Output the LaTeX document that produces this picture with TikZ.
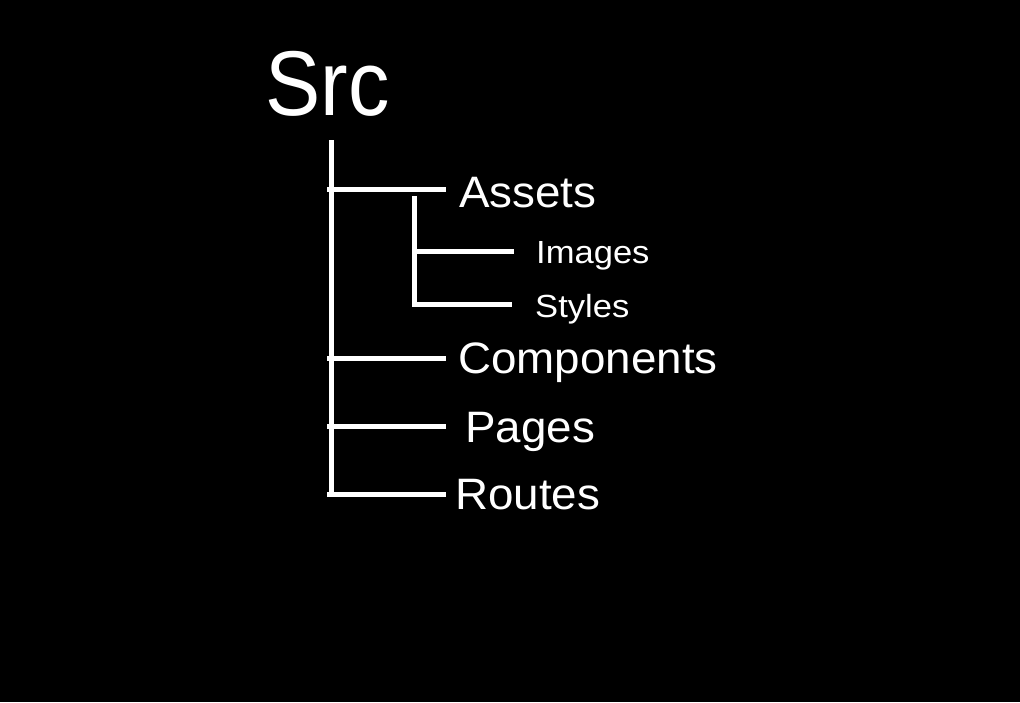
\documentclass[tikz,border=0pt]{standalone}
\usepackage{fontspec}
\setmainfont{Liberation Sans}
\newfontfamily\rootfont[FakeStretch=0.9]{Liberation Sans}
\newfontfamily\lvlonefont[FakeStretch=1.04]{Liberation Sans}
\newfontfamily\lvltwofont[FakeStretch=1.08]{Liberation Sans}
\begin{document}
\begin{tikzpicture}[x=1pt,y=-1pt,
  branch/.style={draw=white,line width=5pt},
  lvlone/.style={text=white,inner sep=0pt,anchor=base west,font=\lvlonefont\fontsize{44}{48}\selectfont},
  lvltwo/.style={text=white,inner sep=0pt,anchor=base west,font=\lvltwofont\fontsize{32}{36}\selectfont},
  rootlbl/.style={text=white,inner sep=0pt,anchor=base west,font=\rootfont\fontsize{92}{96}\selectfont}]
\fill[black] (0,0) rectangle (1020,702);
\useasboundingbox (0,0) rectangle (1020,702);
% labels
\node[rootlbl] (src) at (265,115) {Src};
\node[lvlone] (assets) at (459,207) {Assets};
\node[lvltwo] (images) at (536,263) {Images};
\node[lvltwo] (styles) at (535,317) {Styles};
\node[lvlone] (components) at (458,373) {Components};
\node[lvlone] (pages) at (465,442) {Pages};
\node[lvlone] (routes) at (455,509) {Routes};
% junction coordinates
\coordinate (trunkTop) at (331,140);
\coordinate (trunkBot) at (331,496.5);
\coordinate (jA) at (327,189);
\coordinate (eA) at (446,189);
\coordinate (subTop) at (414.5,196);
\coordinate (subBot) at (414.5,306.5);
\coordinate (jI) at (412,251);
\coordinate (eI) at (514,251);
\coordinate (jS) at (412,304);
\coordinate (eS) at (512,304);
\coordinate (jC) at (327,358);
\coordinate (eC) at (446,358);
\coordinate (jP) at (327,426);
\coordinate (eP) at (446,426);
\coordinate (jR) at (327,494);
\coordinate (eR) at (446,494);
% connectors
\draw[branch] (trunkTop) -- (trunkBot);
\draw[branch] (jA) -- (eA);
\draw[branch] (subTop) -- (subBot);
\draw[branch] (jI) -- (eI);
\draw[branch] (jS) -- (eS);
\draw[branch] (jC) -- (eC);
\draw[branch] (jP) -- (eP);
\draw[branch] (jR) -- (eR);
\end{tikzpicture}
\end{document}
